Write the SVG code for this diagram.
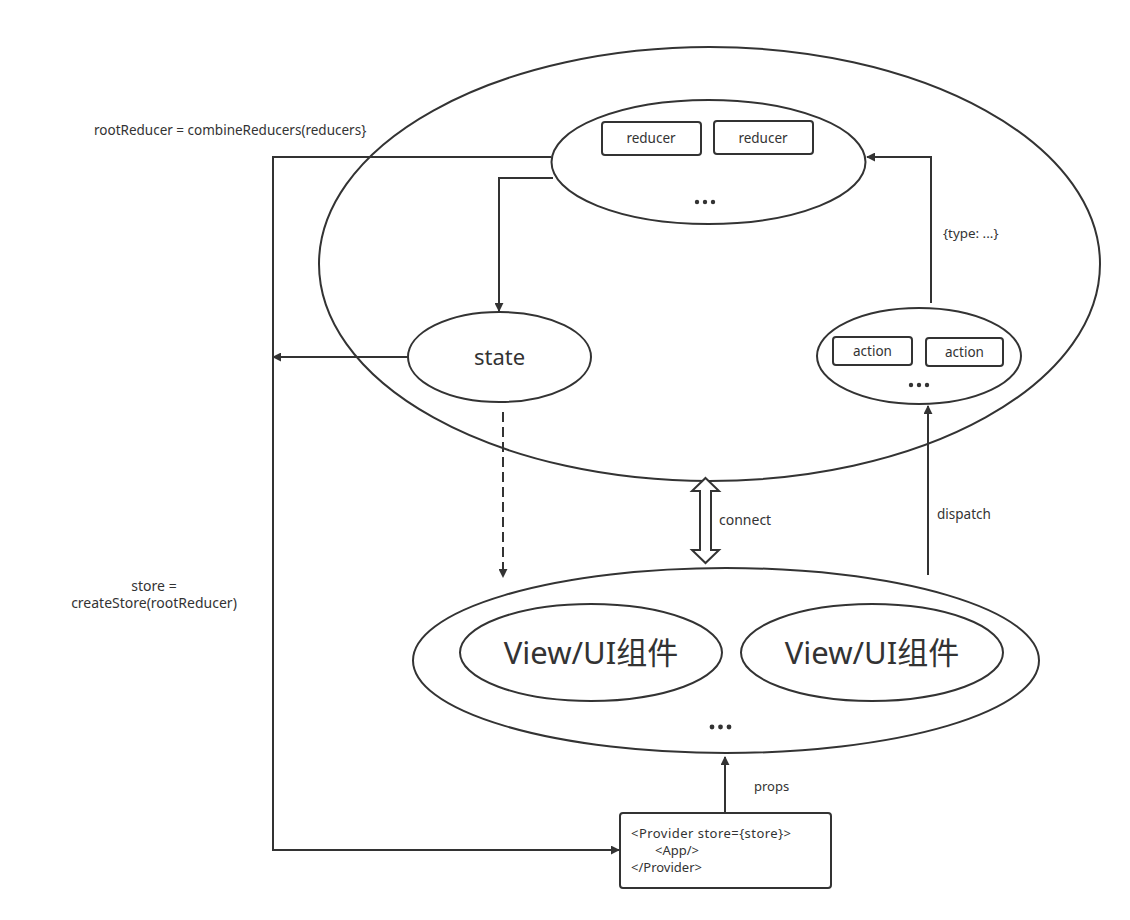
<svg xmlns="http://www.w3.org/2000/svg" width="1130" height="920" viewBox="0 0 1130 920">
<defs>
<style>
.sh{fill:none;stroke:#333;stroke-width:2}
.bx{fill:#fff;stroke:#333;stroke-width:2}
.ln{fill:none;stroke:#333;stroke-width:2}
.t{font-family:"Noto Sans","Noto Sans CJK SC",sans-serif;fill:#333}
.s13{font-size:13.5px}
.dot{fill:#333}
</style>
<marker id="ah" viewBox="0 0 10 10" refX="9" refY="5" markerWidth="9" markerHeight="9" markerUnits="userSpaceOnUse" orient="auto">
<path d="M0,0 L10,5 L0,10 z" fill="#333"/>
</marker>
</defs>
<rect width="1130" height="920" fill="#fff"/>

<g id="store">
<ellipse class="sh" cx="709.5" cy="264" rx="390.5" ry="217"/>
</g>

<g id="reducers">
<ellipse class="bx" cx="708.5" cy="162" rx="157" ry="62"/>
<rect class="bx" x="602" y="122" width="99" height="33" rx="3"/>
<rect class="bx" x="714" y="121" width="99" height="33" rx="3"/>
<text class="t s13" x="651" y="143" text-anchor="middle">reducer</text>
<text class="t s13" x="763" y="143" text-anchor="middle">reducer</text>
<circle class="dot" cx="697" cy="202" r="2.2"/><circle class="dot" cx="705" cy="202" r="2.2"/><circle class="dot" cx="713" cy="202" r="2.2"/>
</g>

<g id="state">
<ellipse class="bx" cx="499.5" cy="357" rx="91.5" ry="45"/>
<text class="t" x="499.5" y="365" font-size="22" text-anchor="middle">state</text>
</g>

<g id="actions">
<ellipse class="bx" cx="919" cy="356" rx="102" ry="48"/>
<rect class="bx" x="833" y="337" width="79" height="28" rx="3"/>
<rect class="bx" x="926" y="338" width="77" height="28" rx="3"/>
<text class="t s13" x="872.5" y="356" text-anchor="middle">action</text>
<text class="t s13" x="964.5" y="357" text-anchor="middle">action</text>
<circle class="dot" cx="911" cy="385" r="2.2"/><circle class="dot" cx="919" cy="385" r="2.2"/><circle class="dot" cx="927" cy="385" r="2.2"/>
</g>

<g id="views">
<ellipse class="bx" cx="726" cy="660.5" rx="313" ry="92.5"/>
<ellipse class="bx" cx="591" cy="652.5" rx="131" ry="48.5"/>
<ellipse class="bx" cx="872" cy="652.5" rx="131" ry="48.5"/>
<text class="t" x="591" y="664" font-size="31" text-anchor="middle">View/UI组件</text>
<text class="t" x="872" y="664" font-size="31" text-anchor="middle">View/UI组件</text>
<circle class="dot" cx="712" cy="727" r="2.4"/><circle class="dot" cx="720.5" cy="727" r="2.4"/><circle class="dot" cx="729" cy="727" r="2.4"/>
</g>

<g id="provider">
<rect class="bx" x="620" y="813" width="211" height="75" rx="3"/>
<text class="t" font-size="13" x="631" y="838" textLength="160" lengthAdjust="spacing">&lt;Provider store={store}&gt;</text>
<text class="t" font-size="13" x="655" y="855">&lt;App/&gt;</text>
<text class="t" font-size="13" x="631" y="872">&lt;/Provider&gt;</text>
</g>

<g id="connectors">
<polyline class="ln" points="551,157 273,157 273,850 619,850" marker-end="url(#ah)"/>
<line class="ln" x1="408" y1="357" x2="273" y2="357" marker-end="url(#ah)"/>
<polyline class="ln" points="553,178 499,178 499,311" marker-end="url(#ah)"/>
<line class="ln" x1="503" y1="412" x2="503" y2="577" stroke-dasharray="10,5" marker-end="url(#ah)"/>
<polyline class="ln" points="931,303 931,157 867,157" marker-end="url(#ah)"/>
<line class="ln" x1="928" y1="575" x2="928" y2="406" marker-end="url(#ah)"/>
<line class="ln" x1="725" y1="812" x2="725" y2="757" marker-end="url(#ah)"/>
<polygon points="705.5,478 719,491 711,491 711,550 719,550 705.5,563 692,550 700,550 700,491 692,491" fill="#fff" stroke="#333" stroke-width="2" stroke-linejoin="miter"/>
</g>

<g id="labels">
<text class="t s13" x="94" y="135">rootReducer = combineReducers(reducers}</text>
<text class="t" font-size="14" x="154" y="591" text-anchor="middle">store =</text>
<text class="t" font-size="14" x="154" y="608" text-anchor="middle">createStore(rootReducer)</text>
<text class="t" font-size="13.4" x="943" y="238">{type: ...}</text>
<text class="t" font-size="14" x="719" y="525">connect</text>
<text class="t s13" x="937" y="519">dispatch</text>
<text class="t" font-size="13" x="754" y="791">props</text>
</g>
</svg>
